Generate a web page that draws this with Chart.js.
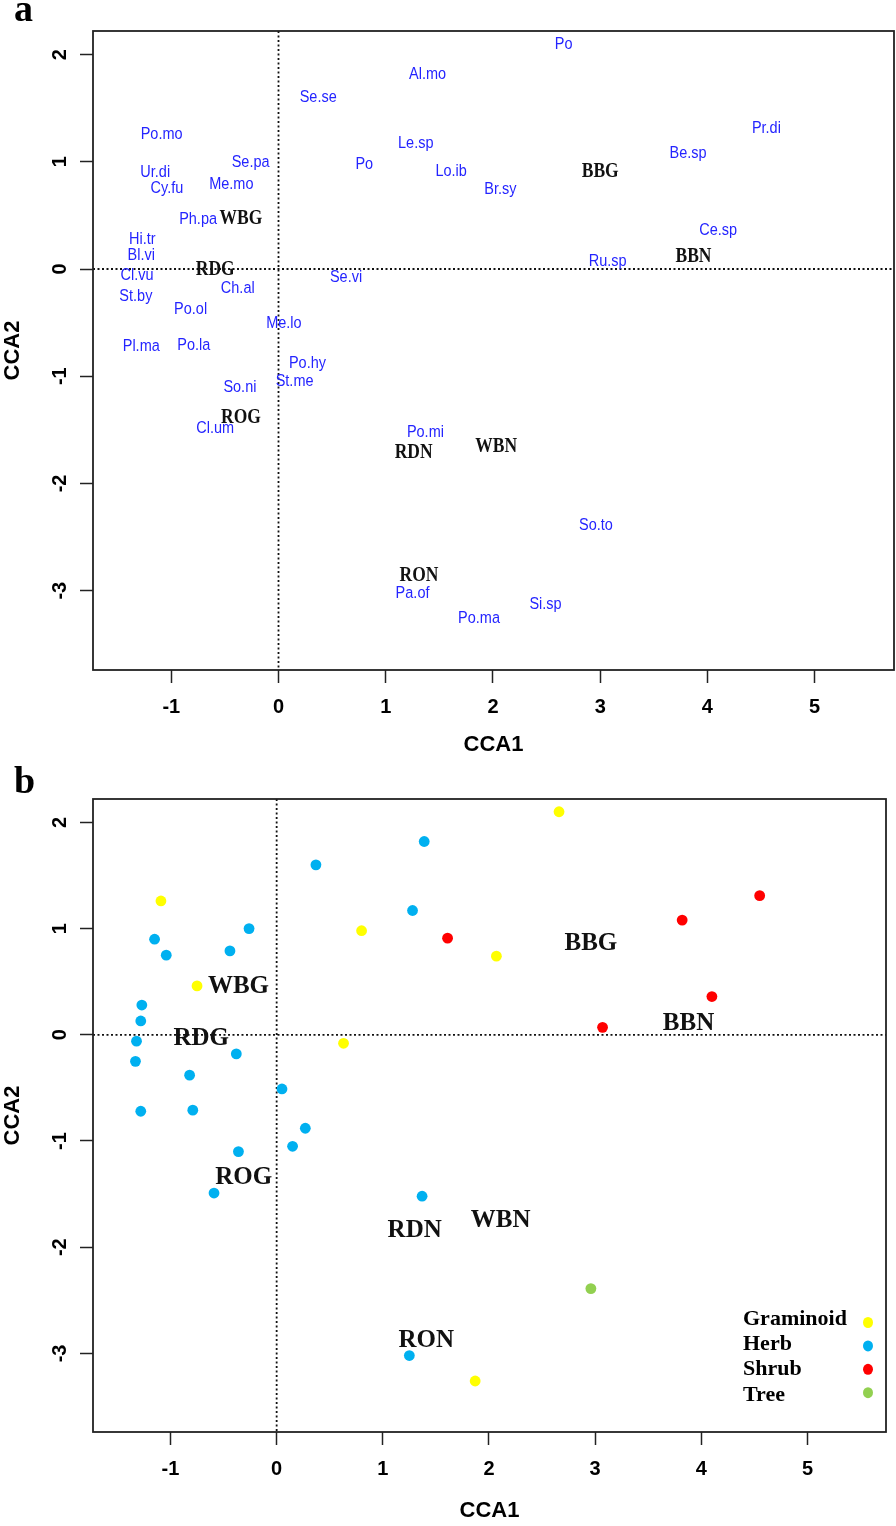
<!DOCTYPE html>
<html>
<head>
<meta charset="utf-8">
<script src="https://cdn.jsdelivr.net/npm/chart.js@4.4.1/dist/chart.umd.min.js"></script>
<style>
  html, body { margin: 0; padding: 0; background: #fff; }
  #wrapA { position: absolute; left: 0; top: 0; width: 896px; height: 760px; }
  #wrapB { position: absolute; left: 0; top: 760px; width: 896px; height: 766px; }
</style>
</head>
<body>
<div id="wrapA"><canvas id="chartA" width="896" height="760"></canvas></div>
<div id="wrapB"><canvas id="chartB" width="896" height="766"></canvas></div>
<script>
// species scores (CCA1, CCA2) and growth form
const species = ['Po', 'Al.mo', 'Se.se', 'Pr.di', 'Po.mo', 'Le.sp', 'Be.sp', 'Se.pa', 'Ur.di', 'Po',
  'Lo.ib', 'Cy.fu', 'Me.mo', 'Br.sy', 'Ph.pa', 'Hi.tr', 'Ce.sp', 'Bl.vi', 'Ru.sp', 'Cl.vu',
  'Se.vi', 'St.by', 'Ch.al', 'Po.ol', 'Me.lo', 'Pl.ma', 'Po.la', 'Po.hy', 'St.me', 'So.ni',
  'Cl.um', 'Po.mi', 'So.to', 'Pa.of', 'Si.sp', 'Po.ma'];
const speciesX = [2.66, 1.39, 0.37, 4.55, -1.09, 1.28, 3.82, -0.26, -1.15, 0.80,
  1.61, -1.04, -0.44, 2.07, -0.75, -1.27, 4.10, -1.28, 3.07, -1.32,
  0.63, -1.33, -0.38, -0.82, 0.05, -1.28, -0.79, 0.27, 0.15, -0.36,
  -0.59, 1.37, 2.96, 1.25, 2.49, 1.87];
const speciesY = [2.10, 1.82, 1.60, 1.31, 1.26, 1.17, 1.08, 1.00, 0.90, 0.98,
  0.91, 0.75, 0.79, 0.74, 0.46, 0.28, 0.36, 0.13, 0.07, -0.06,
  -0.08, -0.25, -0.18, -0.38, -0.51, -0.72, -0.71, -0.88, -1.05, -1.10,
  -1.49, -1.52, -2.39, -3.02, -3.13, -3.26];
const speciesForm = ['Graminoid', 'Herb', 'Herb', 'Shrub', 'Graminoid', 'Herb', 'Shrub', 'Herb', 'Herb', 'Graminoid',
  'Shrub', 'Herb', 'Herb', 'Graminoid', 'Graminoid', 'Herb', 'Shrub', 'Herb', 'Shrub', 'Herb',
  'Graminoid', 'Herb', 'Herb', 'Herb', 'Herb', 'Herb', 'Herb', 'Herb', 'Herb', 'Herb',
  'Herb', 'Herb', 'Tree', 'Herb', '', 'Graminoid'];

// site scores, as placed in each panel
const sites = ['WBG', 'RDG', 'BBG', 'BBN', 'ROG', 'RDN', 'RON', 'WBN'];
const siteAX = [-0.35, -0.59, 3.00, 3.87, -0.35, 1.26, 1.31, 2.03];
const siteAY = [0.47, -0.01, 0.91, 0.11, -1.39, -1.71, -2.86, -1.66];
const siteBX = [-0.36, -0.71, 2.96, 3.88, -0.31, 1.30, 1.41, 2.11];
const siteBY = [0.45, -0.04, 0.86, 0.11, -1.34, -1.84, -2.88, -1.75];

const forms = ['Graminoid', 'Herb', 'Shrub', 'Tree'];
const formColors = ['#ffff00', '#00b0f0', '#ff0000', '#92d050'];

const xRange = [-1.73, 5.74];
const yRange = [-3.74, 2.22];
const xTickValues = [-1, 0, 1, 2, 3, 4, 5];
const yTickValues = [-3, -2, -1, 0, 1, 2];

const SANS = "'Liberation Sans', Arial, sans-serif";
const SERIF = "'Liberation Serif', 'Times New Roman', serif";

function xy(xs, ys) {
  return xs.map((x, i) => ({ x: x, y: ys[i] }));
}

const textLabels = {
  id: 'textLabels',
  afterDatasetsDraw(chart) {
    const ctx = chart.ctx;
    chart.data.datasets.forEach((ds, i) => {
      if (!ds.labels) return;
      const meta = chart.getDatasetMeta(i);
      ctx.save();
      ctx.font = ds.labelFont;
      ctx.fillStyle = ds.labelColor;
      ctx.textAlign = 'center';
      ctx.textBaseline = 'middle';
      meta.data.forEach((pt, j) => {
        ctx.save();
        ctx.translate(pt.x, pt.y);
        ctx.scale(1, ds.labelStretch || 1);
        ctx.fillText(ds.labels[j], 0, 0);
        ctx.restore();
      });
      ctx.restore();
    });
  }
};

const frame = {
  id: 'frame',
  beforeDatasetsDraw(chart) {
    const { ctx, chartArea: a, scales } = chart;
    const x0 = scales.x.getPixelForValue(0);
    const y0 = scales.y.getPixelForValue(0);
    ctx.save();
    ctx.strokeStyle = '#111';
    ctx.lineWidth = 1.8;
    ctx.setLineDash([2, 2.5]);
    ctx.beginPath();
    ctx.moveTo(x0, a.top);
    ctx.lineTo(x0, a.bottom);
    ctx.moveTo(a.left, y0);
    ctx.lineTo(a.right, y0);
    ctx.stroke();
    ctx.restore();
  },
  afterDraw(chart, args, opts) {
    const { ctx, chartArea: a } = chart;
    ctx.save();
    ctx.strokeStyle = '#222';
    ctx.lineWidth = 1.8;
    ctx.strokeRect(a.left, a.top, a.right - a.left, a.bottom - a.top);
    ctx.fillStyle = '#000';
    ctx.font = 'bold 38px ' + SERIF;
    ctx.textAlign = 'left';
    ctx.textBaseline = 'alphabetic';
    ctx.fillText(opts.letter, 14, opts.letterY);
    ctx.restore();
  }
};

const formLegend = {
  id: 'formLegend',
  afterDraw(chart) {
    const ctx = chart.ctx;
    ctx.save();
    ctx.font = 'bold 22px ' + SERIF;
    ctx.textAlign = 'left';
    ctx.textBaseline = 'alphabetic';
    forms.forEach((f, i) => {
      ctx.fillStyle = '#000';
      ctx.fillText(f, 743, 565 + 25.2 * i);
      ctx.fillStyle = formColors[i];
      ctx.beginPath();
      ctx.ellipse(868, 562.5 + 23.4 * i, 5, 5.5, 0, 0, Math.PI * 2);
      ctx.fill();
    });
    ctx.restore();
  }
};

function scaleOptions(xHeight) {
  const tickFont = { family: SANS, size: 20, weight: 'bold' };
  const titleFont = { family: SANS, size: 22, weight: 'bold' };
  return {
    x: {
      type: 'linear',
      min: xRange[0],
      max: xRange[1],
      afterBuildTicks: s => { s.ticks = xTickValues.map(v => ({ value: v })); },
      afterFit: s => { s.height = xHeight; },
      ticks: { font: tickFont, color: '#000', padding: 12 },
      grid: { drawOnChartArea: false, tickLength: 13, tickColor: '#222', tickWidth: 1.5 },
      border: { display: false },
      title: { display: true, text: 'CCA1', font: titleFont, color: '#000', padding: { top: 0, bottom: 2 } }
    },
    y: {
      type: 'linear',
      min: yRange[0],
      max: yRange[1],
      afterBuildTicks: s => { s.ticks = yTickValues.map(v => ({ value: v })); },
      afterFit: s => { s.width = 93; },
      ticks: { font: tickFont, color: '#000', padding: 11, minRotation: 90, maxRotation: 90, crossAlign: 'center' },
      grid: { drawOnChartArea: false, tickLength: 13, tickColor: '#222', tickWidth: 1.5 },
      border: { display: false },
      title: { display: true, text: 'CCA2', font: titleFont, color: '#000', padding: { top: 0, bottom: 0 } }
    }
  };
}

// panel a: species and site names
new Chart(document.getElementById('chartA').getContext('2d'), {
  type: 'scatter',
  data: {
    datasets: [
      {
        label: 'species',
        data: xy(speciesX, speciesY),
        labels: species,
        labelFont: '14.5px ' + SANS,
        labelColor: '#2424ff',
        labelStretch: 1.18,
        pointRadius: 0
      },
      {
        label: 'sites',
        data: xy(siteAX, siteAY),
        labels: sites,
        labelFont: 'bold 17.5px ' + SERIF,
        labelColor: '#111',
        labelStretch: 1.15,
        pointRadius: 0
      }
    ]
  },
  options: {
    responsive: false,
    animation: false,
    layout: { padding: { top: 31, right: 2, left: 0, bottom: 0 } },
    plugins: {
      legend: { display: false },
      tooltip: { enabled: false },
      frame: { letter: 'a', letterY: 21 }
    },
    scales: scaleOptions(90)
  },
  plugins: [frame, textLabels]
});

// panel b: species coloured by growth form
const formSets = forms.map((f, k) => {
  const idx = speciesForm.map((g, i) => (g === f ? i : -1)).filter(i => i >= 0);
  return {
    label: f,
    data: idx.map(i => ({ x: speciesX[i], y: speciesY[i] })),
    backgroundColor: formColors[k],
    borderWidth: 0,
    pointRadius: 5.4
  };
});

new Chart(document.getElementById('chartB').getContext('2d'), {
  type: 'scatter',
  data: {
    datasets: formSets.concat([{
      label: 'sites',
      data: xy(siteBX, siteBY),
      labels: sites,
      labelFont: 'bold 25px ' + SERIF,
      labelColor: '#111',
      pointRadius: 0
    }])
  },
  options: {
    responsive: false,
    animation: false,
    layout: { padding: { top: 39, right: 10, left: 0, bottom: 0 } },
    plugins: {
      legend: { display: false },
      tooltip: { enabled: false },
      frame: { letter: 'b', letterY: 33 }
    },
    scales: scaleOptions(94)
  },
  plugins: [frame, textLabels, formLegend]
});
</script>
</body>
</html>
